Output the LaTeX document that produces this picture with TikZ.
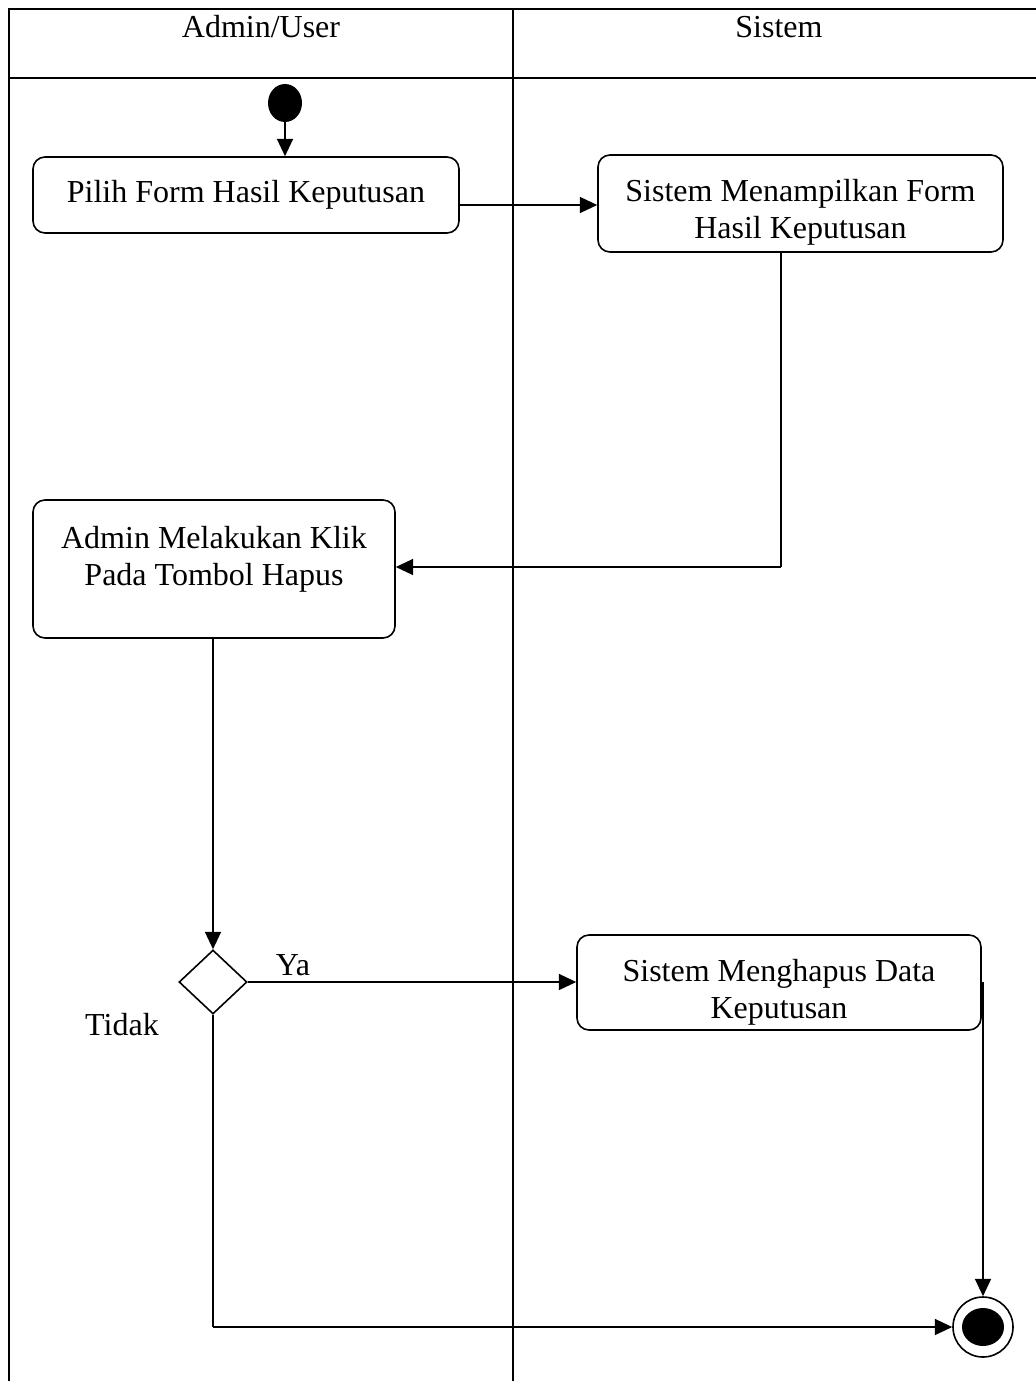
\documentclass[tikz,border=0pt]{standalone}
\usepackage{fontspec}
\setmainfont{Liberation Serif}
\usetikzlibrary{shapes.geometric,arrows.meta}
\begin{document}
\begin{tikzpicture}[x=0.75pt,y=-0.75pt,
  lane/.style={line width=1.5pt},
  act/.style={draw,line width=1.2pt,rounded corners=9pt,inner sep=0pt},
  txt/.style={align=center,font=\fontsize{24}{28.5}\selectfont,inner sep=0pt},
  flow/.style={line width=1.2pt,-{Triangle[length=13pt,width=12pt]}},
  plain/.style={line width=1.2pt},
  lbl/.style={font=\fontsize{24}{28.5}\selectfont,inner sep=0pt}]
\useasboundingbox (0,0) rectangle (1035,1381);
% swimlanes
\draw[lane] (9,1381) -- (9,9) -- (1040,9);
\draw[lane] (9,78) -- (1040,78);
\draw[lane] (513,9) -- (513,1381);
\node[lbl] (hu) at (261,27) {Admin/User};
\node[lbl] (hs) at (779,27) {Sistem};
% start
\node[fill,ellipse,minimum width=34*0.75pt,minimum height=38*0.75pt,inner sep=0pt] (start) at (285,103) {};
% activities
\node[act,minimum width=426*0.75pt,minimum height=76*0.75pt] (a1) at (246,195) {};
\node[txt] (t1) at (246,195) {Pilih Form Hasil Keputusan};
\node[act,minimum width=405*0.75pt,minimum height=97*0.75pt] (a2) at (800.5,203.5) {};
\node[txt] (t2) at (800.5,212.5) {Sistem Menampilkan Form\\[-1pt]Hasil Keputusan};
\node[act,minimum width=362*0.75pt,minimum height=138*0.75pt] (a3) at (214,569) {};
\node[txt] (t3) at (214,559.5) {Admin Melakukan Klik\\[-1pt]Pada Tombol Hapus};
\node[act,minimum width=404*0.75pt,minimum height=95*0.75pt] (a4) at (779,982.5) {};
\node[txt] (t4) at (779,992) {Sistem Menghapus Data\\[-1pt]Keputusan};
% decision
\node[draw,diamond,line width=1.2pt,minimum width=68*0.75pt,minimum height=64*0.75pt,inner sep=0pt] (d) at (213,982) {};
% end
\node[draw,circle,line width=1.2pt,minimum size=60*0.75pt,inner sep=0pt] (end) at (983,1327) {};
\node[fill,ellipse,minimum width=42*0.75pt,minimum height=38*0.75pt,inner sep=0pt] (endin) at (983,1327) {};
% flows
\draw[flow] (start.south) -- (a1.north -| start.south);
\draw[flow] (a1.east |- 0,205) -- (a2.west |- 0,205);
\coordinate (c1) at (781,567);
\draw[plain] (a2.south -| c1) -- (c1);
\draw[flow] (c1) -- (a3.east |- c1);
\draw[flow] (a3.south -| d.north) -- (d.north);
\draw[flow] (d.east) -- (a4.west |- d.east);
\node[lbl] (ya) at (293,965) {Ya};
\node[lbl] (tidak) at (122,1025) {Tidak};
\coordinate (c2) at (213,1327);
\draw[plain] (d.south) -- (c2);
\draw[flow] (c2) -- (end.west);
\coordinate (c3) at (983,982);
\draw[flow] (c3) -- (end.north);
\end{tikzpicture}
\end{document}
